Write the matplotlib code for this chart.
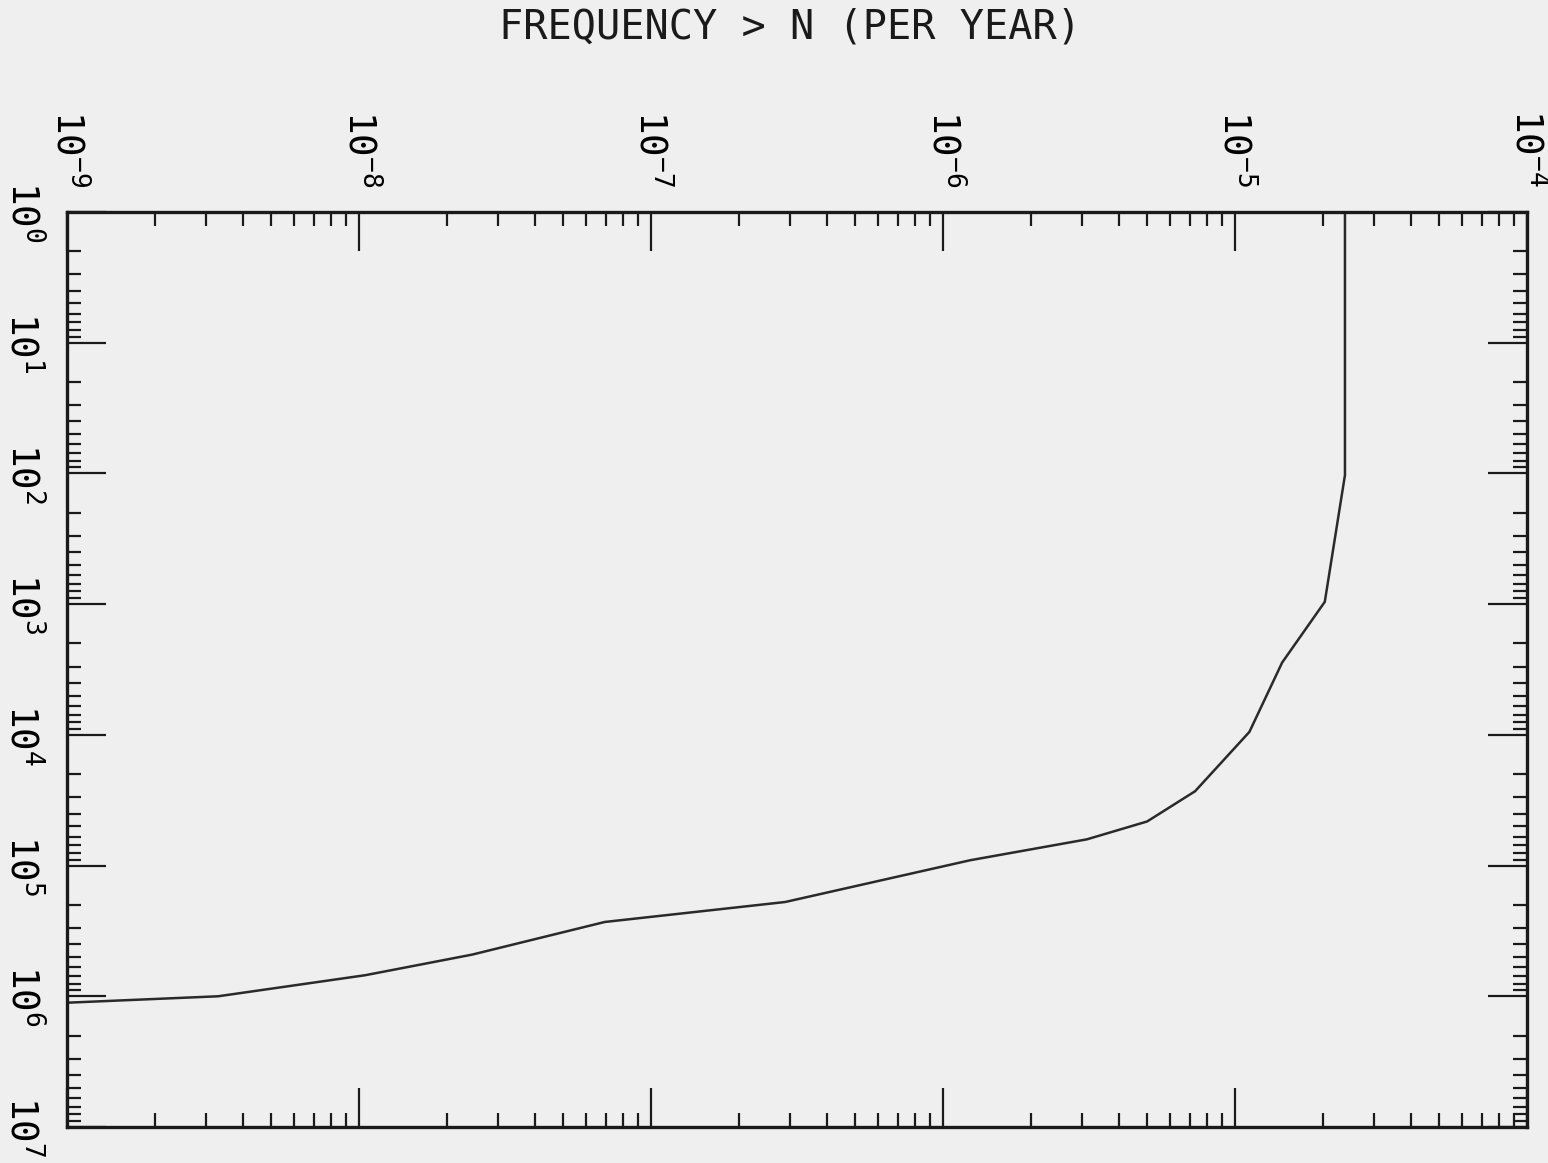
import matplotlib
matplotlib.use('Agg')
import matplotlib.pyplot as plt

plt.rcParams['font.family'] = ['DejaVu Sans Mono', 'DejaVu Sans']
plt.rcParams['mathtext.fontset'] = 'custom'
plt.rcParams['mathtext.rm'] = 'DejaVu Sans Mono'

# 曲线数据
freq = [2.38e-5, 2.38e-5, 2.03e-5, 1.45e-5, 1.12e-5, 7.3e-6, 5.0e-6,
        3.11e-6, 1.24e-6, 2.88e-7, 6.95e-8, 2.44e-8, 1.05e-8, 3.29e-9, 1.0e-9]
n_val = [1.0, 1.03e2, 9.6e2, 2.8e3, 9.5e3, 2.7e4, 4.6e4,
         6.3e4, 9.1e4, 1.9e5, 2.7e5, 4.8e5, 6.9e5, 1.0e6, 1.12e6]

x_ticks = [1e-9, 1e-8, 1e-7, 1e-6, 1e-5, 1e-4]
x_labels = [r'$\mathrm{10^{-9}}$', r'$\mathrm{10^{-8}}$', r'$\mathrm{10^{-7}}$',
            r'$\mathrm{10^{-6}}$', r'$\mathrm{10^{-5}}$', r'$\mathrm{10^{-4}}$']
y_ticks = [1e0, 1e1, 1e2, 1e3, 1e4, 1e5, 1e6, 1e7]
y_labels = [r'$\mathrm{10^{%d}}$' % i for i in range(8)]

bg = '#efefef'
fig = plt.figure(figsize=(15.48, 11.63), dpi=100, facecolor=bg)
ax = fig.add_axes([67 / 1548, 1 - 1127 / 1163, 1460 / 1548, 915 / 1163])
ax.set_facecolor(bg)

ax.plot(freq, n_val, color='#2a2a2a', lw=1.8)

ax.set_xscale('log')
ax.set_yscale('log')
ax.set_xlim(1e-9, 1e-4)
ax.set_ylim(1e7, 1e0)

ax.set_xticks(x_ticks)
ax.set_xticklabels(x_labels, rotation=-90, fontsize=27)
ax.set_yticks(y_ticks)
ax.set_yticklabels(y_labels, rotation=-90, fontsize=27, va='center')

ax.tick_params(which='both', direction='in', top=True, right=True,
               labeltop=True, labelbottom=False, color='#1a1a1a')
ax.tick_params(which='major', length=28, width=1.6, pad=18)
ax.tick_params(which='minor', length=10, width=1.6)
for s in ax.spines.values():
    s.set_linewidth(2.4)
    s.set_color('#1a1a1a')

fig.text(790 / 1548, 1 - 27 / 1163, 'FREQUENCY > N (PER YEAR)',
         ha='center', va='center', fontsize=29, color='#1a1a1a')

fig.savefig('out.png', dpi=100, facecolor=bg)
